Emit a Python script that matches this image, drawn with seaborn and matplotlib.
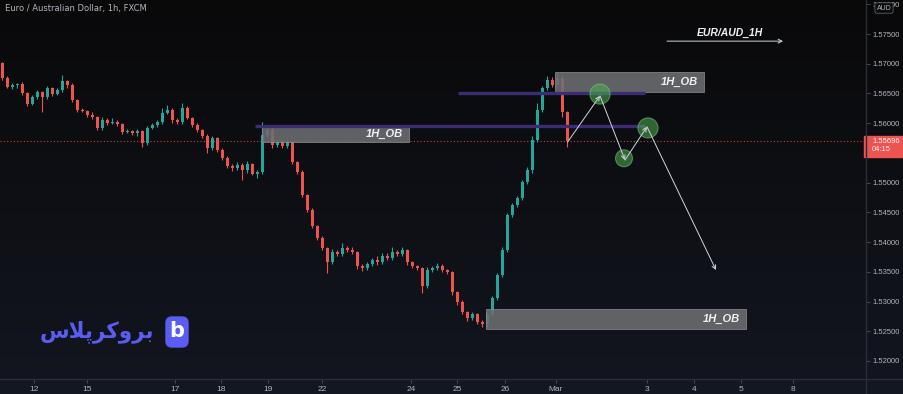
import numpy as np
import pandas as pd
import seaborn as sns
import matplotlib.pyplot as plt
from matplotlib.patches import Rectangle, FancyBboxPatch
from matplotlib.lines import Line2D
from matplotlib.colors import LinearSegmentedColormap

# EUR/AUD, one candle per slot
first_open = 1.5701
closes = [1.5676, 1.5661, 1.5664, 1.5666, 1.5651, 1.5632, 1.5644, 1.5652, 1.5644, 1.5659,
          1.5649, 1.5656, 1.5671, 1.5664, 1.5639, 1.5622, 1.5620, 1.5614, 1.5610, 1.5592,
          1.5605, 1.5600, 1.5602, 1.5599, 1.5585, 1.5587, 1.5583, 1.5587, 1.5567, 1.5592,
          1.5597, 1.5602, 1.5617, 1.5622, 1.5605, 1.5602, 1.5626, 1.5609, 1.5597, 1.5589,
          1.5578, 1.5558, 1.5575, 1.5555, 1.5541, 1.5528, 1.5525, 1.5530, 1.5521, 1.5531,
          1.5515, 1.5518, 1.5580, 1.5589, 1.5563, 1.5568, 1.5562, 1.5568, 1.5535, 1.5518,
          1.5479, 1.5454, 1.5427, 1.5407, 1.5390, 1.5366, 1.5383, 1.5380, 1.5390, 1.5387,
          1.5383, 1.5360, 1.5356, 1.5363, 1.5370, 1.5366, 1.5377, 1.5373, 1.5383, 1.5380,
          1.5387, 1.5366, 1.5360, 1.5356, 1.5326, 1.5353, 1.5356, 1.5360, 1.5353, 1.5350,
          1.5316, 1.5299, 1.5282, 1.5272, 1.5279, 1.5266, 1.5262, 1.5279, 1.5306, 1.5345,
          1.5387, 1.5446, 1.5462, 1.5474, 1.5501, 1.5521, 1.5572, 1.5622, 1.5659, 1.5673,
          1.5664, 1.5676, 1.5619, 1.55696]
# wicks in pips above / below the body
up_wick = [2, 3, 4, 2, 3, 2, 4, 3, 2, 3,
           2, 3, 10, 2, 3, 2, 3, 2, 4, 2,
           5, 3, 6, 3, 2, 3, 2, 4, 2, 3,
           4, 3, 8, 9, 3, 4, 8, 3, 2, 3,
           2, 3, 4, 2, 3, 4, 3, 5, 3, 6,
           2, 3, 22, 3, 5, 4, 3, 3, 2, 2,
           3, 2, 3, 2, 3, 2, 6, 3, 8, 3,
           4, 2, 3, 4, 3, 6, 5, 4, 9, 3,
           4, 2, 3, 2, 2, 5, 3, 4, 3, 2,
           2, 2, 3, 2, 3, 2, 3, 4, 3, 3,
           5, 3, 4, 3, 4, 5, 6, 12, 4, 6,
           5, 8, 3, 2]
down_wick = [3, 2, 3, 4, 3, 3, 2, 3, 25, 3,
             3, 2, 3, 4, 4, 3, 2, 3, 3, 4,
             3, 3, 2, 3, 3, 2, 3, 4, 7, 3,
             2, 3, 3, 2, 4, 3, 3, 2, 3, 4,
             3, 8, 3, 4, 3, 3, 5, 3, 16, 4,
             3, 7, 3, 3, 4, 3, 3, 4, 3, 3,
             3, 4, 3, 3, 4, 18, 3, 4, 3, 3,
             3, 5, 4, 3, 3, 4, 3, 3, 3, 4,
             3, 4, 3, 3, 12, 3, 4, 3, 3, 3,
             5, 4, 3, 4, 3, 3, 4, 5, 3, 3,
             3, 4, 3, 3, 3, 3, 4, 3, 3, 4,
             3, 3, 9, 9]

last_price = 1.55696
last_time = '04:15'
price_ticks = [1.520, 1.525, 1.530, 1.535, 1.540, 1.545, 1.550,
               1.555, 1.560, 1.565, 1.570, 1.575, 1.580]
day_labels = ['12', '15', '17', '18', '19', '22', '24', '25', '26', 'Mar',
              '3', '4', '5', '8']
day_pos = [6.3, 16.9, 34.5, 43.7, 53.1, 63.9, 81.7, 90.9, 100.5, 110.7,
           128.9, 138.3, 147.7, 158.1]

# order blocks
ob_x0 = [110.5, 51.9, 96.7]
ob_x1 = [140.3, 81.3, 148.7]
ob_low = [1.5652, 1.5568, 1.5254]
ob_high = [1.5686, 1.5597, 1.5288]
# purple levels
lvl_price = [1.5651, 1.5596]
lvl_x0 = [91.1, 50.5]
lvl_x1 = [128.5, 128.5]
# projected path and circles
path_x = [113.0, 119.5, 124.5, 128.9, 142.7]
path_y = [1.5568, 1.5646, 1.5538, 1.5594, 1.5353]
circle_x = [119.5, 124.3, 129.1]
circle_y = [1.5649, 1.5541, 1.5592]
circle_d = [20, 18, 20]

up_c, dn_c = '#26a69a', '#ef5350'
txt_c = '#b2b5be'
line_c = '#2a2e39'
num_font = 'Liberation Sans'

df = pd.DataFrame({'close': closes, 'up': up_wick, 'down': down_wick})
df['open'] = df['close'].shift(1).fillna(first_open)
df['high'] = df[['open', 'close']].max(axis=1) + df['up'] * 1e-4
df['low'] = df[['open', 'close']].min(axis=1) - df['down'] * 1e-4
df['x'] = np.arange(len(df))
colors = np.where(df['close'] >= df['open'], up_c, dn_c)

sns.set_theme(style='dark')
plt.rcParams['font.family'] = ['DejaVu Sans']

fig = plt.figure(figsize=(9.04, 3.94), dpi=100)
bg = fig.add_axes([0, 0, 1, 1], zorder=-1)
grad = np.linspace(0, 1, 256).reshape(-1, 1)
bg.imshow(grad, aspect='auto', extent=[0, 1, 0, 1],
          cmap=LinearSegmentedColormap.from_list('bg', ['#09090a', '#131620']))
bg.add_patch(Rectangle((0, 0), 1, 15 / 394, color='#131722'))
bg.set_xlim(0, 1)
bg.set_ylim(0, 1)
bg.axis('off')

ax = fig.add_axes([0, 15 / 394, 866 / 904, 379 / 394])
ax.set_facecolor('none')

# candles
ax.vlines(df['x'], df['low'], df['high'], colors=colors, lw=0.8, zorder=2)
ax.bar(df['x'], df['close'] - df['open'], bottom=df['open'], width=0.7,
       color=colors, lw=0, zorder=2)
ax.axhline(last_price, color=dn_c, ls=(0, (1, 2)), lw=0.8, alpha=0.8, zorder=1)

# order blocks
for x0, x1, lo, hi in zip(ob_x0, ob_x1, ob_low, ob_high):
    ax.add_patch(Rectangle((x0, lo), x1 - x0, hi - lo, facecolor='#6d6e72',
                           edgecolor='#8a8b8f', lw=0.6, alpha=0.88, zorder=3))
    ax.text(x1 - 1.2, (lo + hi) / 2, '1H_OB', ha='right', va='center',
            color='#f0f0f0', fontsize=8, fontweight='bold', fontstyle='italic',
            family='Liberation Sans', zorder=6)
for p, x0, x1 in zip(lvl_price, lvl_x0, lvl_x1):
    ax.hlines(p, x0, x1, color='#3b2c74', lw=2.4, zorder=4)

# circles + path
sns.scatterplot(x=circle_x, y=circle_y, size=circle_d, sizes=(150, 210),
                color='#4caf50', alpha=0.55, edgecolor='#7cc47f', linewidth=0.8,
                legend=False, ax=ax, zorder=5)
for i in range(len(path_x) - 1):
    ax.annotate('', xy=(path_x[i + 1], path_y[i + 1]), xytext=(path_x[i], path_y[i]),
                arrowprops=dict(arrowstyle='->', color='#d1d4dc', lw=0.7,
                                shrinkA=0, shrinkB=0, mutation_scale=7), zorder=6)

ax.annotate('', xy=(156.1, 1.5738), xytext=(132.9, 1.5738),
            arrowprops=dict(arrowstyle='->', color='#d1d4dc', lw=0.7,
                            shrinkA=0, shrinkB=0, mutation_scale=7))
ax.text(145.5, 1.5752, 'EUR/AUD_1H', ha='center', va='center', color='#f0f0f0',
        fontsize=7.5, fontweight='bold', fontstyle='italic', family='Liberation Sans')

ax.set_xlim(-0.5, 172.7)
ax.set_ylim(1.51697, 1.58072)

ax.yaxis.tick_right()
ax.set_yticks(price_ticks)
ax.set_yticklabels([f'{p:.5f}' for p in price_ticks], family=num_font)
ax.set_xticks(day_pos)
ax.set_xticklabels(day_labels, family=num_font)
ax.tick_params(axis='y', colors='#4c525e', labelcolor=txt_c, labelsize=5.5,
               length=3, width=0.6, pad=2, right=True)
ax.tick_params(axis='x', colors='#4c525e', labelcolor=txt_c, labelsize=6,
               length=3, width=0.6, pad=2, bottom=True)
ax.grid(False)
for s in ax.spines.values():
    s.set_visible(False)

fig.add_artist(Line2D([0, 1], [15 / 394, 15 / 394], color=line_c, lw=1,
                      transform=fig.transFigure))
fig.add_artist(Line2D([866 / 904, 866 / 904], [0, 1], color=line_c, lw=1,
                      transform=fig.transFigure))

# last price label
ytr = ax.get_yaxis_transform()
ax.add_patch(Rectangle((0.998, 1.5543), 0.044, 0.0035, transform=ytr,
                       color=dn_c, clip_on=False, zorder=7))
ax.text(1.007, 1.5570, f'{last_price:.5f}', transform=ytr, color='white',
        fontsize=5.5, va='center', family=num_font, clip_on=False, zorder=8)
ax.text(1.007, 1.5555, last_time, transform=ytr, color='white',
        fontsize=5.5, va='center', family=num_font, clip_on=False, zorder=8)

# header
fig.text(5 / 904, 1 - 9 / 394, 'Euro / Australian Dollar, 1h, FXCM',
         fontsize=6, color=txt_c, va='center')
fig.text(884 / 904, 1 - 8 / 394, 'AUD', fontsize=5, color=txt_c, ha='center',
         va='center', family=num_font,
         bbox=dict(boxstyle='round,pad=0.25', fc='#0b0b0c', ec='#5d606b', lw=0.6))

# logo
fig.add_artist(FancyBboxPatch((166, 394 - 347), 22, 30, transform=None,
                              boxstyle='round,pad=0,rounding_size=6',
                              color='#5a5cf2'))
fig.text(177 / 904, 1 - 331 / 394, 'b', color='white', fontsize=15,
         fontweight='bold', ha='center', va='center')
fig.text(154 / 904, 1 - 332 / 394,
         '\uFEB1\uFEFC\uFB58\uFEAE\uFB90\uFEED\uFEAE\uFE91',
         color='#5a5cf2', fontsize=15.5, fontweight='bold', ha='right', va='center',
         family=['DejaVu Sans'])

fig.savefig('out.png', dpi=100, facecolor=fig.get_facecolor())
